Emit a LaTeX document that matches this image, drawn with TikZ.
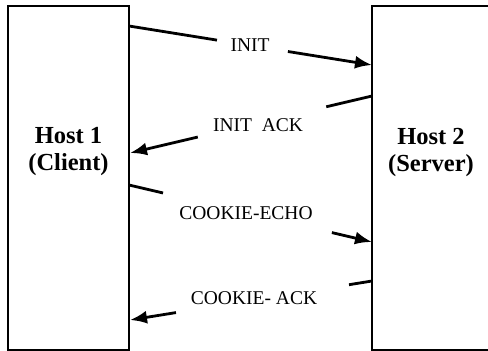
\documentclass[tikz,border=0pt]{standalone}
\usepackage{fontspec}
\setmainfont{Liberation Serif}
\usetikzlibrary{arrows.meta,calc}
\begin{document}
\begin{tikzpicture}[x=1pt,y=-1pt,
  hostbox/.style={draw,line width=1.6pt},
  hostlab/.style={font=\fontsize{24.5}{27}\selectfont\bfseries,align=center},
  seg/.style={line width=2.8pt},
  msg/.style={line width=2.8pt,-{Latex[length=17pt,width=13pt]}},
  lab/.style={font=\fontsize{19.5}{22}\selectfont,inner sep=0pt}]
\useasboundingbox (0,0) rectangle (488,351);
\clip (0,0) rectangle (488,351);
\draw[hostbox] (8,6) rectangle (129,350);
\draw[hostbox] (372,6) rectangle (496,350);
\node[hostlab] (h1) at (68.5,152) {Host 1\\(Client)};
\node[hostlab] (h2) at (431,152) {Host 2\\(Server)};
\coordinate (a1) at (129,26);  \coordinate (b1) at (372,65);
\coordinate (a2) at (372,96);  \coordinate (b2) at (130,153);
\coordinate (a3) at (129,185); \coordinate (b3) at (372,242);
\coordinate (a4) at (372,281); \coordinate (b4) at (130,320);
\node[lab] (l1) at (250,45) {INIT};
\node[lab] (l2) at (258,125) {INIT\ \ ACK};
\node[lab] (l3) at (246,213) {COOKIE-ECHO};
\node[lab] (l4) at (254,298) {COOKIE- ACK};
\draw[seg] (a1) -- ($(a1)!0.362!(b1)$);
\draw[msg] ($(a1)!0.654!(b1)$) -- (b1);
\draw[seg] (a2) -- ($(a2)!0.189!(b2)$);
\draw[msg] ($(a2)!0.72!(b2)$) -- (b2);
\draw[seg] (a3) -- ($(a3)!0.14!(b3)$);
\draw[msg] ($(a3)!0.835!(b3)$) -- (b3);
\draw[seg] (a4) -- ($(a4)!0.095!(b4)$);
\draw[msg] ($(a4)!0.81!(b4)$) -- (b4);
\end{tikzpicture}
\end{document}
